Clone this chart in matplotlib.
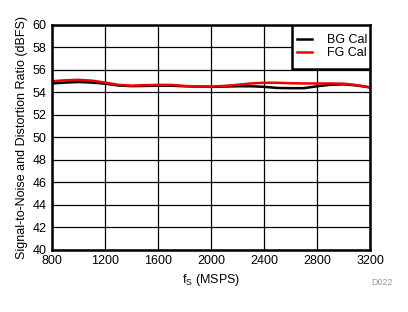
import matplotlib
matplotlib.use('Agg')
import matplotlib.pyplot as plt
from matplotlib.patches import Rectangle

fs = [800, 900, 1000, 1100, 1200, 1300, 1400, 1500, 1600, 1700, 1800, 1900, 2000,
      2100, 2200, 2300, 2400, 2500, 2600, 2700, 2800, 2900, 3000, 3100, 3200]
bg_cal = [54.80, 54.88, 54.93, 54.88, 54.78, 54.62, 54.56, 54.58, 54.60, 54.60, 54.55, 54.52, 54.50,
          54.52, 54.55, 54.55, 54.50, 54.40, 54.38, 54.38, 54.55, 54.68, 54.72, 54.62, 54.45]
fg_cal = [55.00, 55.08, 55.12, 55.05, 54.88, 54.68, 54.60, 54.65, 54.67, 54.67, 54.58, 54.52, 54.52,
          54.58, 54.68, 54.80, 54.86, 54.86, 54.82, 54.80, 54.80, 54.80, 54.78, 54.65, 54.45]
xticks = [800, 1200, 1600, 2000, 2400, 2800, 3200]
yticks = list(range(40, 61, 2))

plt.rcParams['font.family'] = ['Liberation Sans', 'DejaVu Sans']

fig = plt.figure(figsize=(4.08, 3.12), dpi=100)
ax = fig.add_axes([0.1275, 0.199, 0.7795, 0.721])

ax.plot(fs, bg_cal, color='black', lw=1.8, label='BG Cal')
ax.plot(fs, fg_cal, color='#f00000', lw=1.8, label='FG Cal')

ax.set_xlim(800, 3200)
ax.set_ylim(40, 60)
ax.set_xticks(xticks)
ax.set_yticks(yticks)
ax.grid(True, color='black', lw=0.9)
ax.tick_params(length=0, labelsize=9, pad=4)
for s in ax.spines.values():
    s.set_linewidth(1.8)

ax.set_xlabel('f$_\\mathregular{S}$ (MSPS)', fontsize=9, labelpad=3)
ax.set_ylabel('Signal-to-Noise and Distortion Ratio (dBFS)', fontsize=9, labelpad=3)

# legend box (frame drawn separately, it is taller than the entries)
box = Rectangle((0.755, 0.804), 0.245, 0.196, transform=ax.transAxes,
                facecolor='white', edgecolor='black', lw=1.8, zorder=4)
ax.add_patch(box)
leg = ax.legend(loc='upper left', bbox_to_anchor=(0.757, 0.975), fontsize=9, frameon=False,
                borderaxespad=0, handlelength=1.2, borderpad=0.3, labelspacing=0.05,
                handletextpad=1.2)
leg.set_zorder(5)

fig.text(0.962, 0.085, 'D022', fontsize=6.5, color='#999999', ha='right')

fig.savefig('out.png', dpi=100)
